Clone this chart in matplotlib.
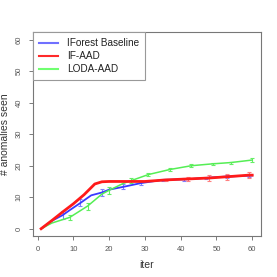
import matplotlib
matplotlib.use("Agg")
import matplotlib.pyplot as plt

# IForest Baseline
blue_x = [1, 4, 7, 9, 12, 15, 18, 20, 24, 29, 35, 42, 48, 52, 58, 60]
blue_y = [0, 2.5, 4.3, 5.9, 8.2, 10.6, 11.5, 12.4, 13.3, 14.5, 15.5, 15.7, 16.2, 16.5, 16.8, 16.9]
blue_ex = [7, 12, 18, 24, 29, 35, 41, 47, 53, 59]
blue_ey = [4.3, 8.2, 11.5, 13.3, 14.4, 15.5, 15.7, 16.1, 16.5, 16.8]
blue_ee = [1.3, 1.1, 1.0, 0.8, 0.5, 0.4, 0.4, 0.4, 0.4, 0.5]

# IF-AAD
red_x = [1, 4, 7, 10, 13, 16, 18, 20, 25, 30, 36, 42, 48, 53, 59, 60]
red_y = [0, 2.6, 5.3, 7.9, 10.8, 14.2, 14.9, 15.0, 15.0, 15.0, 15.5, 15.8, 16.1, 16.5, 17.0, 17.0]
red_ex = [36, 42, 48, 53, 59]
red_ey = [15.5, 15.8, 16.1, 16.5, 17.0]
red_ee = [0.3, 0.5, 0.8, 0.9, 1.0]

# LODA-AAD
green_x = [1, 4, 9, 14, 18, 20, 24, 26, 31, 37, 43, 49, 54, 60]
green_y = [0, 1.8, 3.6, 7.2, 11.0, 12.2, 14.4, 15.2, 17.2, 18.8, 20.0, 20.6, 21.0, 21.8]
green_ex = [9, 14, 20, 26, 31, 37, 43, 49, 54, 60]
green_ey = [3.6, 7.2, 12.2, 15.2, 17.2, 18.8, 20.0, 20.6, 21.0, 21.8]
green_ee = [0.8, 1.1, 1.2, 0.8, 0.6, 0.5, 0.4, 0.3, 0.3, 0.5]

labels = ["IForest Baseline", "IF-AAD", "LODA-AAD"]
x_ticks = [0, 10, 20, 30, 40, 50, 60]
y_ticks = [0, 10, 20, 30, 40, 50, 60]

plt.rcParams['font.family'] = ['Liberation Sans', 'DejaVu Sans']

fig = plt.figure(figsize=(2.77, 2.77), dpi=100)
ax = fig.add_axes([0.118, 0.147, 0.823, 0.737])

blue_c = "#3a3aff"
red_c = "#ff1a1a"
green_c = "#55ee55"

ax.errorbar(blue_ex, blue_ey, yerr=blue_ee, fmt='none', ecolor="#8080ff",
            elinewidth=0.8, capsize=1.6, capthick=0.8, zorder=2)
ax.errorbar(green_ex, green_ey, yerr=green_ee, fmt='none', ecolor="#66ee66",
            elinewidth=0.8, capsize=1.6, capthick=0.8, zorder=2)
ax.errorbar(red_ex, red_ey, yerr=red_ee, fmt='none', ecolor="#ff8080",
            elinewidth=0.8, capsize=1.6, capthick=0.8, zorder=2)

l1, = ax.plot(blue_x, blue_y, color=blue_c, lw=1.3, zorder=3)
l3, = ax.plot(green_x, green_y, color=green_c, lw=1.1, zorder=3)
l2, = ax.plot(red_x, red_y, color=red_c, lw=2.0, zorder=4, solid_joinstyle='round')

ax.set_xlim(-1.36, 62.36)
ax.set_ylim(-2.4, 62.4)
ax.set_xticks(x_ticks)
ax.set_yticks(y_ticks)
ax.set_xticklabels([str(v) for v in x_ticks], fontsize=5.5, color="#555555")
ax.set_yticklabels([str(v) for v in y_ticks], fontsize=5.5, color="#555555",
                   rotation=90, va='center')
ax.tick_params(axis='both', length=3, width=0.6, color="#666666", pad=4)
for s in ax.spines.values():
    s.set_color("#777777")
    s.set_linewidth(0.8)

ax.set_xlabel("iter", fontsize=7.5, color="#333333", labelpad=5)
ax.set_ylabel("# anomalies seen", fontsize=7.5, color="#333333", labelpad=4)

h1 = plt.Line2D([], [], color="#7070ff", lw=1.5)
h2 = plt.Line2D([], [], color="#ff2a2a", lw=1.5)
h3 = plt.Line2D([], [], color="#70ff70", lw=1.5)
leg = ax.legend([h1, h2, h3], labels, loc='upper left', fontsize=7.2,
                frameon=True, fancybox=False, borderaxespad=0,
                handlelength=1.95, handletextpad=0.85, labelspacing=0.3,
                borderpad=0.6, labelcolor="#222222")
leg.get_frame().set_edgecolor("#999999")
leg.get_frame().set_linewidth(0.8)
leg.get_frame().set_alpha(1)

fig.savefig("out.png", dpi=100)
